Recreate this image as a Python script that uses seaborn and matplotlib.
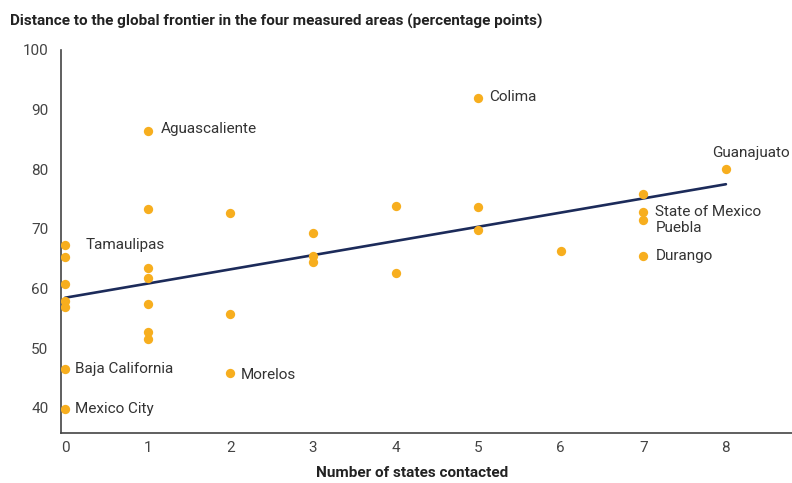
import numpy as np
import pandas as pd
import matplotlib
matplotlib.use('Agg')
import matplotlib.pyplot as plt
import seaborn as sns

# states contacted (x) and distance to frontier (y)
states_contacted = [0, 0, 0, 0, 0, 0, 0,
                    1, 1, 1, 1, 1, 1, 1,
                    2, 2, 2,
                    3, 3, 3,
                    4, 4,
                    5, 5, 5,
                    6,
                    7, 7, 7, 7,
                    8]
distance = [67.3, 65.3, 60.8, 58.0, 57.0, 46.6, 39.9,
            86.4, 73.4, 63.5, 61.8, 57.5, 52.8, 51.6,
            72.6, 55.8, 45.9,
            69.3, 65.5, 64.5,
            73.9, 62.7,
            92.0, 73.6, 69.9,
            66.3,
            75.8, 72.9, 71.5, 65.5,
            80.0]

# labelled states: (name, x, y, text offset in px, alignment)
labels = [
    ("Tamaulipas", 0, 67.3, (20, 0), 'left'),
    ("Baja California", 0, 46.6, (10, 0), 'left'),
    ("Mexico City", 0, 39.9, (10, 0), 'left'),
    ("Aguascaliente", 1, 86.4, (13, 2), 'left'),
    ("Morelos", 2, 45.9, (10, -2), 'left'),
    ("Colima", 5, 92.0, (11, 1), 'left'),
    ("Guanajuato", 8, 80.0, (64, 16), 'right'),
    ("State of Mexico", 7, 72.9, (12, 0), 'left'),
    ("Puebla", 7, 71.5, (12, -8), 'left'),
    ("Durango", 7, 65.5, (12, 0), 'left'),
]

df = pd.DataFrame({'contacted': states_contacted, 'distance': distance})

sns.set_style('white')
plt.rcParams['font.family'] = ['Roboto', 'DejaVu Sans']

orange = '#F7AE1E'
navy = '#1C2B5A'
grey = '#444444'

fig = plt.figure(figsize=(7.92, 4.83), dpi=100)
ax = fig.add_axes([0.077, 0.1035, 0.923, 0.793])

sns.regplot(data=df, x='contacted', y='distance', ax=ax, ci=None,
            scatter_kws={'s': 45, 'color': orange, 'linewidths': 0, 'alpha': 1, 'zorder': 3},
            line_kws={'color': navy, 'lw': 1.9, 'zorder': 2})

for name, x, y, off, ha in labels:
    ax.annotate(name, (x, y), xytext=(off[0] * 0.72, off[1] * 0.72), textcoords='offset points',
                ha=ha, va='center', fontsize=11, color='#333333')

ax.set_xlim(-0.05, 8.8)
ax.set_ylim(35.8, 100)
ax.set_xticks(range(0, 9))
ax.set_yticks(range(40, 101, 10))
ax.tick_params(axis='y', length=5, color=grey, labelsize=11, labelcolor=grey, pad=4)
ax.tick_params(axis='x', length=0, labelsize=11, labelcolor=grey, pad=6)

sns.despine(ax=ax)
for side in ['left', 'bottom']:
    ax.spines[side].set_color(grey)
    ax.spines[side].set_linewidth(1.2)

ax.set_ylabel('')
ax.set_xlabel('Number of states contacted', fontsize=11, fontweight='bold', color='#222222')
ax.xaxis.set_label_coords(0.48, -0.085)
fig.text(0.013, 0.955, 'Distance to the global frontier in the four measured areas (percentage points)',
         fontsize=11, fontweight='bold', color='#222222', ha='left', va='center')

fig.savefig('out.png', dpi=100)
